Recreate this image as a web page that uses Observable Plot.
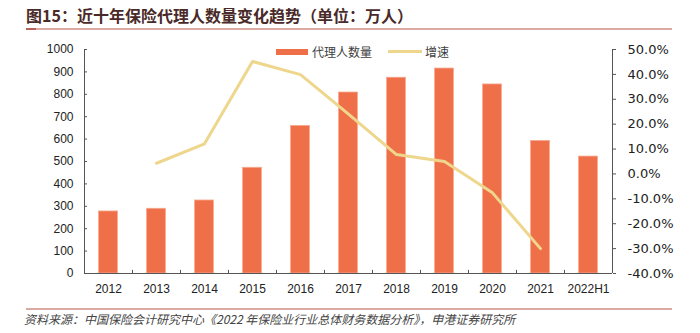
<!DOCTYPE html>
<html>
<head>
<meta charset="utf-8">
<script src="https://cdn.jsdelivr.net/npm/d3@7"></script>
<script src="https://cdn.jsdelivr.net/npm/@observablehq/plot@0.6"></script>
<style>
  html, body { margin: 0; padding: 0; background: #fff; }
  #wrap { position: relative; width: 700px; height: 333px; overflow: hidden; font-family: "Liberation Sans", Arial, sans-serif; }
  #wrap svg { position: absolute; left: 0; top: 0; }
  .title { position: absolute; left: 26px; top: 5px; font: bold 16px "Noto Sans CJK SC", sans-serif; color: #4a2a28; white-space: nowrap; line-height: 20px; }
  .tline { position: absolute; left: 26px; top: 28px; width: 646px; height: 2px; background: #dcaaa4; }
  .tline2 { position: absolute; left: 26px; top: 28px; width: 10px; height: 2px; background: #b8625a; }
  .fline { position: absolute; left: 26px; top: 308px; width: 646px; height: 1.5px; background: #dcaaa4; }
  .foot { position: absolute; left: 24px; top: 311px; font: italic 12px "Noto Sans CJK SC", sans-serif; color: #444; white-space: nowrap; line-height: 16px; }
  .leg { position: absolute; top: 44px; font: 12px "Noto Sans CJK SC", sans-serif; color: #404040; line-height: 16px; white-space: nowrap; }
  .sw { position: absolute; }
</style>
</head>
<body>
<div id="wrap"></div>
<script>
const categories = ["2012","2013","2014","2015","2016","2017","2018","2019","2020","2021","2022H1"];
const agents = [277, 289, 326, 472, 659, 808, 874, 915, 844, 592, 522];
const growth = [null, 4.3, 12.1, 45.2, 39.9, 24.0, 7.8, 5.0, -7.6, -30.0, null];
const leftTicks = [0,100,200,300,400,500,600,700,800,900,1000];
const rightTicks = [-40,-30,-20,-10,0,10,20,30,40,50];
const seriesNames = ["代理人数量", "增速"];
const titleText = "图15：近十年保险代理人数量变化趋势（单位：万人）";
const sourceText = "资料来源：中国保险会计研究中心《2022 年保险业行业总体财务数据分析》，申港证券研究所";

const barColor = "#ee6f48";
const lineColor = "#eed68c";
const axisColor = "#555";

// map the right (percent) scale onto the left scale's domain
const rMin = -40, rMax = 50, lMax = 1000;
const toLeft = g => (g - rMin) / (rMax - rMin) * lMax;
const fromLeft = v => v / lMax * (rMax - rMin) + rMin;

const barData = categories.map((c, i) => ({year: c, value: agents[i]}));
const lineData = categories.map((c, i) => ({year: c, g: growth[i]})).filter(d => d.g !== null);

const chart = Plot.plot({
  width: 700,
  height: 333,
  marginTop: 49,
  marginBottom: 60,
  marginLeft: 84,
  marginRight: 88,
  style: {fontFamily: "Liberation Sans, Arial, sans-serif", fontSize: "12px", color: "#222", background: "transparent"},
  x: {type: "band", domain: categories, padding: 0, label: null},
  y: {domain: [0, lMax], label: null},
  marks: [
    Plot.barY(barData, {x: "year", y: "value", fill: barColor, stroke: "#f6ab92", strokeWidth: 0.8, insetLeft: 14.5, insetRight: 14.5}),
    Plot.line(lineData, {x: "year", y: d => toLeft(d.g), stroke: lineColor, strokeWidth: 3}),
    // axis lines
    Plot.ruleY([0], {stroke: axisColor, strokeWidth: 1}),
    Plot.ruleX([categories[0]], {dx: -24, y1: 0, y2: lMax, stroke: axisColor, strokeWidth: 1}),
    Plot.ruleX([categories[categories.length - 1]], {dx: 24, y1: 0, y2: lMax, stroke: axisColor, strokeWidth: 1}),
    // category boundary ticks
    Plot.ruleX(categories.slice(1), {x: d => d, dx: -24, y1: 0, y2: 14, stroke: axisColor, strokeWidth: 1}),
    // left axis
    Plot.axisY(leftTicks, {anchor: "left", tickSize: 0, tickPadding: 11, fontSize: 12, fill: "#222", tickFormat: d => String(d)}),
    Plot.axisY(leftTicks, {anchor: "left", tickSize: 3, text: null, dx: 3, stroke: axisColor}),
    // right axis
    Plot.axisY(rightTicks.map(toLeft), {anchor: "right", tickSize: 3, tickPadding: 12, stroke: axisColor,
      tickFormat: v => fromLeft(v).toFixed(1) + "%", fontSize: 13, fontFamily: "DejaVu Sans, sans-serif", fill: "#222"}),
    // bottom axis labels
    Plot.axisX({tickSize: 0, tickPadding: 11, fontSize: 12, fill: "#222"})
  ]
});

const wrap = document.getElementById("wrap");
wrap.appendChild(chart);

function add(cls, html, style) {
  const d = document.createElement("div");
  d.className = cls;
  if (html) d.textContent = html;
  if (style) Object.assign(d.style, style);
  wrap.appendChild(d);
  return d;
}
add("title", titleText);
add("tline");
add("tline2");
add("fline");
add("foot", sourceText);
// legend
add("sw", null, {left: "276px", top: "49px", width: "32px", height: "6px", background: barColor});
add("leg", seriesNames[0], {left: "312px"});
add("sw", null, {left: "388px", top: "50px", width: "34px", height: "3px", background: lineColor});
add("leg", seriesNames[1], {left: "425px"});
</script>
</body>
</html>
